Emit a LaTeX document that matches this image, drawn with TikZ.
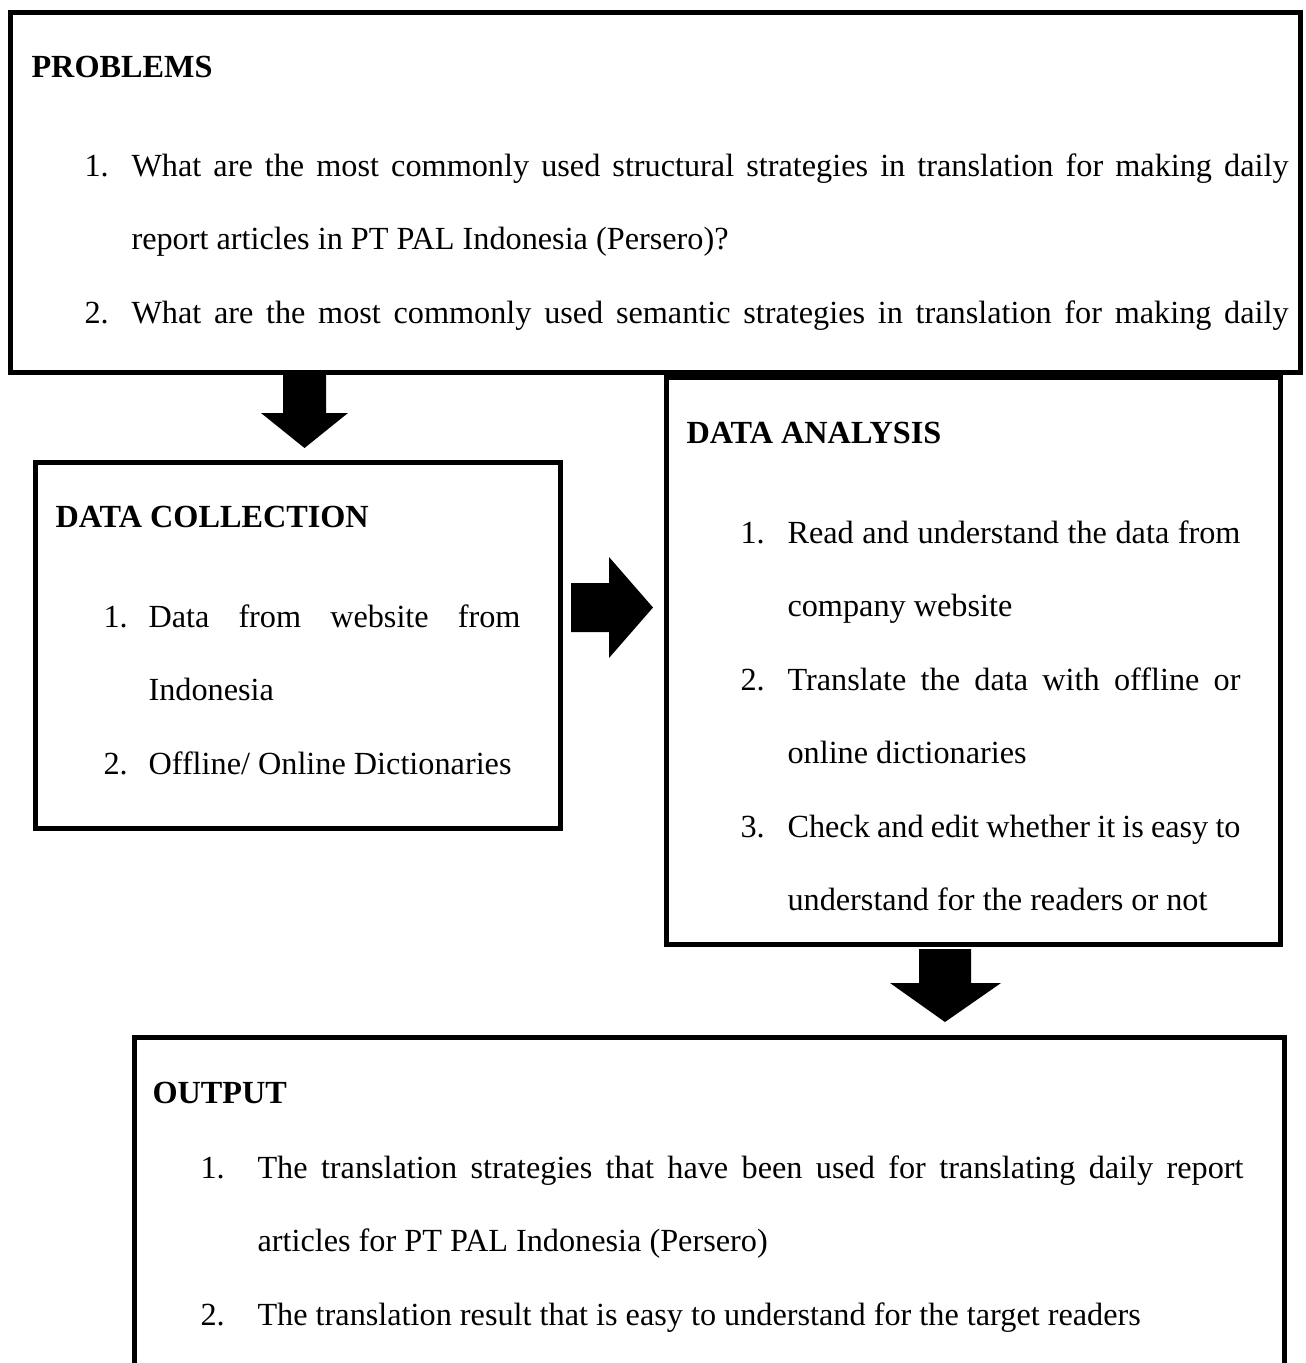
\documentclass[tikz,border=0pt]{standalone}
\usepackage{fontspec}
\setmainfont{Liberation Serif}
\newlength\pxu
\setlength\pxu{0.3721pt}
\newcommand\numitem[3]{\hangindent=#1\hangafter=1\noindent\makebox[#1][l]{#2}#3\par}
\tikzset{
  box/.style={draw, line width=4.5\pxu, inner sep=0pt, anchor=north west},
  ttl/.style={anchor=base west, inner sep=0pt, font={\fontsize{12pt}{27.35pt}\selectfont\bfseries}},
  itm/.style={anchor=base west, inner sep=0pt, align=justify, font={\fontsize{12pt}{27.35pt}\selectfont}},
  blk/.style={fill=black}
}
\begin{document}
\begin{tikzpicture}[x=0.3721pt, y=-0.3721pt]
\clip (0,0) rectangle (1305,1363);
% boxes
\node[box, minimum width=1290\pxu, minimum height=360\pxu] (problems) at (8,10) {};
\node[box, minimum width=525\pxu, minimum height=366\pxu] (collection) at (33,460) {};
\node[box, minimum width=614\pxu, minimum height=567\pxu] (analysis) at (664,375) {};
\node[box, minimum width=1150\pxu, minimum height=400\pxu] (output) at (132,1035) {};
% problems
\node[ttl] (ptitle) at (31,77) {PROBLEMS};
\node[itm, text width=1204\pxu] (p1) at (84,176) {\numitem{47\pxu}{1.}{What are the most commonly used structural strategies in translation for making daily\linebreak report articles in PT PAL Indonesia (Persero)?}};
\node[itm, text width=1204\pxu] (p2) at (84,323) {\numitem{47\pxu}{2.}{\makebox[1157\pxu][s]{What are the most commonly used semantic strategies in translation for making daily}}};
% data collection
\node[ttl] (dctitle) at (55,527) {DATA COLLECTION};
\node[itm, text width=417\pxu] (dc1) at (103,627) {\numitem{45\pxu}{1.}{Data from website from\linebreak Indonesia}};
\node[itm, text width=417\pxu] (dc2) at (103,774) {\numitem{45\pxu}{2.}{Offline/ Online Dictionaries}};
% data analysis
\node[ttl] (datitle) at (686,443) {DATA ANALYSIS};
\node[itm, text width=500\pxu] (da1) at (740,543) {\numitem{47\pxu}{1.}{Read and understand the data from\linebreak company website}};
\node[itm, text width=500\pxu] (da2) at (740,690) {\numitem{47\pxu}{2.}{Translate the data with offline or\linebreak online dictionaries}};
\node[itm, text width=500\pxu] (da3) at (740,837) {\numitem{47\pxu}{3.}{Check and edit whether it is easy to\linebreak understand for the readers or not}};
% output
\node[ttl] (otitle) at (152,1103) {OUTPUT};
\node[itm, text width=1043\pxu] (o1) at (200,1178) {\numitem{57\pxu}{1.}{The translation strategies that have been used for translating daily report\linebreak articles for PT PAL Indonesia (Persero)}};
\node[itm, text width=1043\pxu] (o2) at (200,1325) {\numitem{57\pxu}{2.}{The translation result that is easy to understand for the target readers}};
% block arrows
\fill[blk] (283,373) -- (326,373) -- (326,413) -- (348,413) -- (304.5,448) -- (261,413) -- (283,413) -- cycle;
\fill[blk] (571,583) -- (609,583) -- (609,557) -- (653,607.5) -- (609,658) -- (609,632) -- (571,632) -- cycle;
\fill[blk] (919,949) -- (971,949) -- (971,983) -- (1001,983) -- (945,1022) -- (890,983) -- (919,983) -- cycle;
\end{tikzpicture}
\end{document}
